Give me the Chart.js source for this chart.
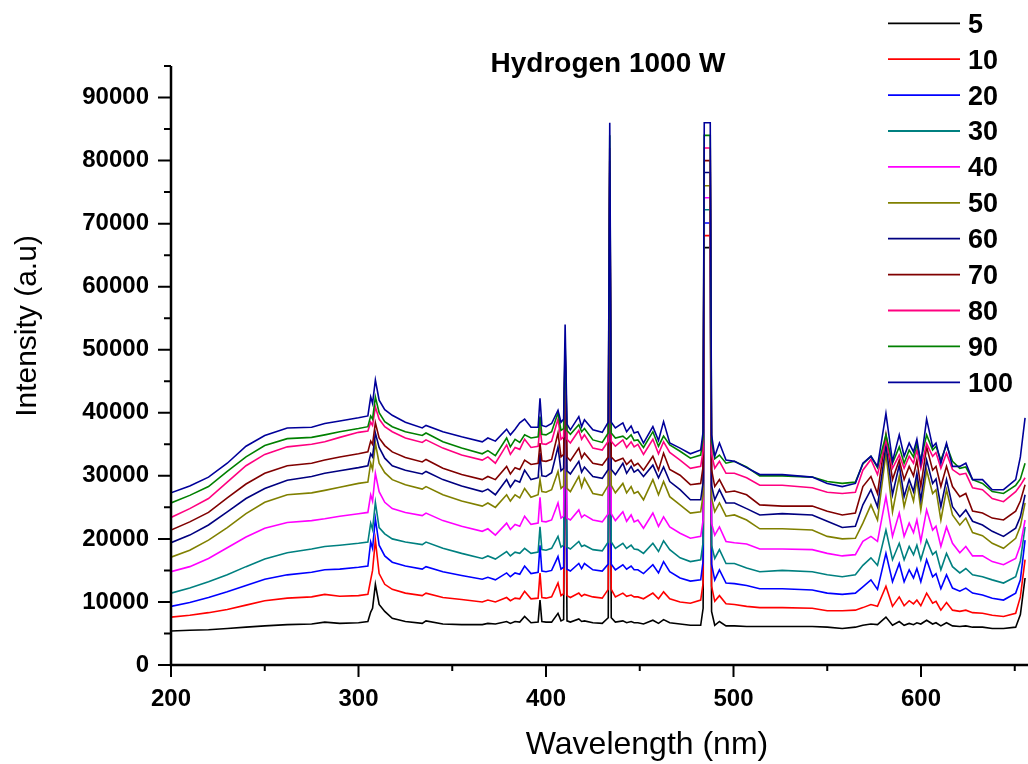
<!DOCTYPE html>
<html>
<head>
<meta charset="utf-8">
<title>Hydrogen 1000 W</title>
<script src="https://cdn.jsdelivr.net/npm/chart.js@4.4.1/dist/chart.umd.min.js"></script>
<style>
    html, body { margin: 0; padding: 0; background: #ffffff; }
    #wrap { width: 1028px; height: 764px; position: relative; }
</style>
</head>
<body>
<div id="wrap"><canvas id="spectra" width="1028" height="764"></canvas></div>
<script>
// Emission spectra, wavelength in nm
const wavelength = [
    200, 210, 220, 230, 240, 250, 262, 275, 282, 290,
    300, 305, 306.5, 307.5, 309, 311, 314, 318, 325, 334,
    336, 345, 355, 366, 369, 373, 379, 381, 383.5, 386,
    388.6, 392, 395.8, 396.8, 397.8, 400, 403, 406.4, 408, 409.4,
    410.2, 411.2, 413, 417.5, 419, 420.5, 425, 430, 433.2, 434,
    434.8, 437, 441, 443, 445.4, 447, 449, 452, 457, 460,
    462.7, 466, 471.5, 477, 482.5, 483.8, 484.4, 487.6, 488.3, 490,
    492.5, 496, 500.5, 507, 514, 526, 542, 550, 558, 565,
    569, 573.3, 576.8, 581.3, 584.8, 588.4, 591, 593.7, 596, 597.8,
    599.9, 603, 606.2, 608, 610.6, 613.6, 616.8, 620.7, 623.9, 627.5,
    632.8, 638, 644, 650.5, 653, 655.5
];

const i5 = [
    5400, 5500, 5600, 5800, 6000, 6200, 6400, 6500, 6800, 6600,
    6700, 6900, 8400, 9000, 12800, 9600, 8500, 7400, 6900, 6600,
    7000, 6500, 6400, 6400, 6600, 6500, 6900, 6600, 6900, 6800,
    7700, 6700, 6800, 10300, 6900, 6800, 6800, 8200, 7000, 7200,
    46000, 7000, 6800, 7300, 6900, 7000, 6700, 6600, 7500, 66200,
    7500, 6800, 7000, 6700, 6900, 6700, 6700, 6500, 7100, 6600,
    7200, 6700, 6500, 6300, 6300, 9000, 66200, 66200, 8500, 6300,
    6900, 6200, 6200, 6100, 6100, 6100, 6100, 6000, 5800, 6000,
    6300, 6500, 6400, 7600, 6300, 6900, 6300, 6600, 6400, 6700,
    6500, 7100, 6500, 6700, 6200, 6700, 6200, 6100, 6200, 6000,
    6000, 5800, 5800, 6000, 8000, 13800
];

const i10 = [
    7600, 7900, 8300, 8800, 9500, 10200, 10600, 10800, 11200, 10900,
    11000, 11200, 13500, 15000, 19800, 14500, 12800, 12000, 11400, 11000,
    11400, 10700, 10400, 10000, 10300, 10000, 10700, 10200, 10600, 10500,
    11700, 10500, 10600, 14600, 10700, 10600, 10800, 13000, 11000, 11300,
    46500, 11000, 10700, 11400, 10900, 11200, 10800, 10600, 12000, 68100,
    12000, 10800, 11400, 10900, 11100, 10800, 10800, 10500, 11400, 10500,
    11600, 10500, 10000, 9800, 10300, 13000, 68100, 68100, 12500, 10100,
    11000, 9700, 9600, 9300, 9100, 9100, 9000, 8600, 8600, 8700,
    9100, 9600, 9300, 12500, 9300, 10800, 9400, 10200, 9700, 10300,
    9400, 11400, 9800, 10100, 8700, 9900, 8700, 8500, 8700, 8300,
    8200, 7900, 7700, 8200, 10800, 16700
];

const i20 = [
    9300, 9900, 10700, 11600, 12600, 13600, 14300, 14700, 15100, 15200,
    15500, 15700, 19500, 18500, 23200, 19000, 17300, 16300, 15700, 15200,
    15600, 14800, 14200, 13600, 13900, 13500, 14600, 14000, 14600, 14400,
    15700, 14500, 14700, 19000, 14900, 14800, 15000, 17200, 15200, 15500,
    47000, 15200, 14900, 16100, 15300, 16100, 15100, 14900, 16000, 70100,
    16000, 15100, 15900, 15200, 15700, 15100, 15100, 14500, 15900, 14600,
    16400, 14800, 13800, 13300, 13500, 16500, 70100, 70100, 16000, 13500,
    15100, 13000, 12900, 12600, 12100, 12100, 11900, 11400, 11200, 11400,
    12400, 13500, 12000, 17700, 13200, 16100, 13200, 15100, 13800, 15300,
    13200, 16700, 14000, 14500, 12100, 14300, 12200, 11700, 12200, 11400,
    11100, 10600, 10300, 11400, 13500, 19800
];

const i30 = [
    11400, 12200, 13200, 14300, 15600, 16800, 17800, 18400, 18800, 19000,
    19300, 19500, 22500, 21500, 25800, 21800, 20800, 20000, 19500, 19100,
    19500, 18500, 17700, 16900, 17300, 16800, 18000, 17300, 17900, 17700,
    18500, 17700, 17900, 21900, 18300, 18200, 18500, 20400, 18700, 19000,
    47500, 18700, 18400, 19600, 18800, 19000, 18300, 18100, 19500, 72200,
    19500, 18500, 19300, 18500, 19000, 18400, 18300, 17700, 19300, 18000,
    19700, 18300, 17000, 16400, 16700, 19500, 72200, 72200, 19000, 16900,
    18300, 16100, 16100, 15400, 14800, 15000, 14800, 14300, 14000, 14300,
    15800, 17000, 15800, 21400, 16700, 19300, 16700, 18800, 17500, 19000,
    16700, 19800, 17500, 18000, 15100, 17700, 15600, 14600, 15300, 14300,
    14000, 13500, 13000, 14000, 16500, 21900
];

const i40 = [
    14800, 15600, 16900, 18600, 20300, 21700, 22600, 22900, 23200, 23600,
    24000, 24200, 27000, 26000, 30400, 27500, 25800, 24800, 24200, 23700,
    24100, 22900, 22000, 21200, 21600, 20600, 22500, 21500, 22300, 22000,
    23600, 22300, 22500, 26600, 22800, 22700, 23000, 25700, 23300, 23600,
    48000, 23300, 23000, 24600, 23400, 23800, 23000, 22700, 24000, 74100,
    24000, 22900, 24300, 22800, 23800, 22700, 23000, 21700, 24100, 22000,
    23500, 21900, 20900, 20100, 20400, 23000, 74100, 74100, 22500, 20600,
    21900, 19600, 19400, 19200, 18400, 18400, 18300, 17700, 17300, 17500,
    19600, 20400, 19600, 26700, 20400, 24100, 20400, 22500, 21000, 23000,
    19600, 24600, 21400, 22000, 18800, 21900, 19300, 17800, 18800, 17300,
    17300, 16400, 15900, 16900, 19000, 23000
];

const i50 = [
    17100, 18200, 19800, 21800, 24000, 25800, 27000, 27300, 27700, 28200,
    28800, 29000, 32000, 31000, 35200, 32000, 30500, 29400, 28600, 27900,
    28300, 27000, 26000, 25200, 25700, 25000, 27000, 26000, 27000, 26500,
    28000, 26600, 27000, 29400, 27500, 27400, 27800, 30700, 28000, 28400,
    48500, 28000, 27500, 29900, 28200, 29600, 27200, 26900, 28500, 76000,
    28500, 27300, 28800, 27300, 28300, 27200, 27500, 26200, 29400, 27000,
    29100, 26700, 25400, 24100, 24300, 27000, 76000, 76000, 26500, 24300,
    25700, 23600, 23800, 23000, 21600, 21600, 21400, 20400, 20000, 20100,
    22500, 25400, 23000, 33600, 24300, 29900, 25100, 28300, 26000, 29400,
    24600, 30900, 27200, 27800, 23000, 27800, 23800, 22200, 23300, 21000,
    20500, 19300, 18500, 20100, 22000, 25700
];

const i60 = [
    19400, 20600, 22200, 24300, 26400, 28000, 29300, 29900, 30400, 30800,
    31300, 31600, 33500, 33000, 36800, 34500, 32800, 31600, 30900, 30300,
    30700, 29400, 28400, 27500, 27900, 27000, 29400, 28200, 29300, 29000,
    30900, 29400, 29700, 33600, 30000, 29900, 30500, 34600, 30800, 31200,
    49000, 30800, 30300, 32300, 30600, 31400, 29900, 29600, 31000, 78100,
    31000, 30200, 32000, 30400, 31500, 30600, 31000, 29900, 31700, 29700,
    31400, 29100, 27800, 26200, 26200, 29000, 78100, 78100, 28500, 26200,
    27800, 25700, 25700, 24800, 23800, 24000, 23800, 22800, 21800, 22000,
    25400, 27800, 25100, 34900, 27000, 31700, 26700, 29400, 27500, 30400,
    26200, 32500, 28800, 29500, 25100, 29400, 25100, 23500, 24600, 22800,
    22200, 21200, 20400, 21700, 23500, 27000
];

const i70 = [
    21400, 22700, 24200, 26500, 28700, 30400, 31600, 32000, 32500, 33000,
    33500, 33800, 35500, 35000, 38400, 36000, 34800, 33800, 32900, 32200,
    32600, 31200, 30200, 29400, 29900, 29400, 31500, 30300, 31300, 31000,
    32500, 31800, 32000, 35200, 32400, 32300, 32600, 36800, 33000, 33400,
    49500, 33000, 32400, 34400, 32800, 33600, 32000, 31700, 33000, 80000,
    33000, 32300, 32800, 31800, 32500, 31600, 32000, 30900, 33100, 30900,
    33600, 31000, 30100, 28600, 28800, 31500, 80000, 80000, 31000, 28300,
    29400, 27400, 27600, 27000, 25400, 25200, 25200, 24400, 23800, 24100,
    28300, 29900, 27200, 36500, 29400, 32500, 29400, 31500, 30000, 32500,
    28300, 34600, 30900, 31500, 28300, 31500, 28300, 26700, 27200, 24400,
    24100, 23300, 23000, 24400, 26000, 28600
];

const i80 = [
    23400, 24800, 26400, 29000, 31600, 33400, 34600, 35000, 35400, 36100,
    36900, 37100, 38500, 38000, 40900, 39000, 37800, 37000, 36000, 35300,
    35700, 34400, 33300, 32500, 33000, 32000, 34900, 33400, 34500, 34200,
    35800, 34500, 34700, 37800, 35100, 35000, 35500, 39000, 35800, 36200,
    50000, 35800, 35200, 37200, 35800, 36500, 34400, 34100, 35500, 82000,
    35500, 34700, 35700, 34500, 35400, 34600, 35000, 33400, 35800, 33500,
    35400, 33700, 32500, 31200, 31500, 34000, 82000, 82000, 33500, 31200,
    32300, 30400, 30400, 29700, 28500, 28500, 28100, 27400, 27200, 27400,
    30900, 32600, 30200, 35700, 31200, 33300, 31200, 33100, 32000, 34100,
    31200, 35100, 33100, 33700, 31200, 33600, 31000, 30200, 30400, 28100,
    27800, 26400, 25900, 27500, 28500, 29700
];

const i90 = [
    25700, 26900, 28300, 30700, 33000, 34800, 35900, 36100, 36500, 37000,
    37500, 37800, 39500, 39000, 42500, 40000, 38600, 37800, 37000, 36400,
    36800, 35400, 34400, 33500, 34000, 33200, 36000, 34600, 35800, 35300,
    36500, 36000, 36200, 39400, 36600, 36500, 37000, 40000, 37200, 37500,
    51000, 37200, 36600, 38100, 37000, 37500, 35700, 35300, 36800, 84000,
    36800, 36000, 36300, 35800, 36500, 35600, 35700, 34500, 37000, 34700,
    36300, 34900, 33900, 32800, 33300, 36000, 84000, 84000, 35500, 32700,
    33300, 32000, 32300, 31400, 30000, 30000, 29800, 29100, 28800, 29000,
    31900, 33100, 31300, 36500, 32000, 34600, 32000, 34100, 33000, 35000,
    32500, 36500, 34100, 34700, 32500, 34900, 32300, 31200, 31400, 29400,
    28800, 27500, 27200, 28500, 29500, 32000
];

const i100 = [
    27300, 28400, 29800, 32000, 34700, 36400, 37600, 37700, 38300, 38700,
    39200, 39500, 42500, 41500, 45200, 42000, 40500, 39600, 38500, 37600,
    38000, 37000, 36200, 35400, 36000, 35500, 37400, 36500, 37400, 38400,
    39000, 37700, 37700, 42300, 38000, 37800, 38300, 40400, 38500, 39000,
    54000, 38200, 37300, 39400, 37800, 38900, 37300, 36900, 38500, 86000,
    38500, 37600, 38400, 37000, 37900, 36800, 37000, 35200, 37800, 35600,
    38600, 35200, 34400, 33500, 34100, 37000, 86000, 86000, 36500, 33100,
    35200, 32500, 32300, 31300, 30200, 30200, 29800, 28800, 28300, 28800,
    32000, 33100, 31500, 39900, 32300, 36500, 33100, 35200, 33800, 35800,
    32000, 39000, 34600, 35200, 32000, 35200, 31500, 31500, 32000, 29400,
    29400, 27800, 27800, 29400, 33000, 39200
];

const seriesLabels = ['5', '10', '20', '30', '40', '50', '60', '70', '80', '90', '100'];
const seriesColors = ['#000000', '#ff0000', '#0000ff', '#008080', '#ff00ff', '#808000',
                      '#000080', '#800000', '#ff0080', '#008000', '#00009a'];
const seriesValues = [i5, i10, i20, i30, i40, i50, i60, i70, i80, i90, i100];

// Axis ranges and tick values
const xMajor = [200, 300, 400, 500, 600];
const xMinor = [250, 350, 450, 550, 650];
const yMajor = [0, 10000, 20000, 30000, 40000, 50000, 60000, 70000, 80000, 90000];
const yMinor = [5000, 15000, 25000, 35000, 45000, 55000, 65000, 75000, 85000, 95000];

const FONT = '"Liberation Sans", Arial, Helvetica, sans-serif';

// Axis lines, tick marks, titles and the legend are drawn by hand
const decorations = {
    id: 'decorations',
    afterDraw(chart) {
        const ctx = chart.ctx;
        const { left, right, top, bottom } = chart.chartArea;
        const xs = chart.scales.x;
        const ys = chart.scales.y;

        ctx.save();
        ctx.strokeStyle = '#000';
        ctx.lineWidth = 2.5;
        ctx.lineCap = 'butt';

        ctx.beginPath();
        ctx.moveTo(left, top);
        ctx.lineTo(left, bottom);
        ctx.moveTo(left - 1.25, bottom);
        ctx.lineTo(right + 2, bottom);
        ctx.stroke();

        ctx.lineWidth = 2;
        ctx.beginPath();
        xMajor.forEach(v => {
            const px = xs.getPixelForValue(v);
            ctx.moveTo(px, bottom);
            ctx.lineTo(px, bottom + 12);
        });
        xMinor.forEach(v => {
            const px = xs.getPixelForValue(v);
            ctx.moveTo(px, bottom);
            ctx.lineTo(px, bottom + 6);
        });
        yMajor.forEach(v => {
            const py = ys.getPixelForValue(v);
            ctx.moveTo(left, py);
            ctx.lineTo(left - 13, py);
        });
        yMinor.forEach(v => {
            const py = ys.getPixelForValue(v);
            ctx.moveTo(left, py);
            ctx.lineTo(left - 7, py);
        });
        ctx.stroke();

        ctx.fillStyle = '#000';
        ctx.font = 'bold 28px ' + FONT;
        ctx.textAlign = 'center';
        ctx.textBaseline = 'alphabetic';
        ctx.fillText('Hydrogen 1000 W', 608, 72);

        ctx.font = '32px ' + FONT;
        ctx.textBaseline = 'middle';
        ctx.fillText('Wavelength (nm)', 647, 745);

        ctx.font = '30px ' + FONT;
        ctx.save();
        ctx.translate(28, 326);
        ctx.rotate(-Math.PI / 2);
        ctx.fillText('Intensity (a.u)', 0, 0);
        ctx.restore();

        // legend
        ctx.font = 'bold 27px ' + FONT;
        ctx.textAlign = 'left';
        chart.data.datasets.forEach((ds, i) => {
            const y = 23.3 + 35.9 * i;
            ctx.strokeStyle = ds.borderColor;
            ctx.lineWidth = 1.8;
            ctx.beginPath();
            ctx.moveTo(888, y);
            ctx.lineTo(960, y);
            ctx.stroke();
            ctx.fillText(ds.label, 968, y + 2);
        });

        ctx.restore();
    }
};

const datasets = seriesValues.map((vals, i) => ({
    label: seriesLabels[i],
    data: wavelength.map((w, k) => ({ x: w, y: vals[k] })),
    borderColor: seriesColors[i],
    borderWidth: 1.6,
    pointRadius: 0,
    tension: 0,
    fill: false,
    order: seriesValues.length - 1 - i
}));

new Chart(document.getElementById('spectra'), {
    type: 'line',
    data: { datasets: datasets },
    options: {
        responsive: false,
        animation: false,
        layout: { padding: { left: 0, right: 2, top: 66, bottom: 0 } },
        plugins: {
            legend: { display: false },
            tooltip: { enabled: false }
        },
        scales: {
            x: {
                type: 'linear',
                min: 200,
                max: 656,
                afterFit: s => { s.height = 99; },
                afterBuildTicks: s => { s.ticks = xMajor.map(v => ({ value: v })); },
                grid: { display: false, drawTicks: false },
                border: { display: false },
                ticks: {
                    color: '#000',
                    padding: 20,
                    maxRotation: 0,
                    autoSkip: false,
                    font: { family: FONT, size: 24, weight: 'bold' },
                    callback: v => String(v)
                }
            },
            y: {
                type: 'linear',
                min: 0,
                max: 95000,
                afterFit: s => { s.width = 171; },
                afterBuildTicks: s => { s.ticks = yMajor.map(v => ({ value: v })); },
                grid: { display: false, drawTicks: false },
                border: { display: false },
                ticks: {
                    color: '#000',
                    padding: 22,
                    autoSkip: false,
                    font: { family: FONT, size: 24, weight: 'bold' },
                    callback: v => String(v)
                }
            }
        }
    },
    plugins: [decorations]
});
</script>
</body>
</html>
